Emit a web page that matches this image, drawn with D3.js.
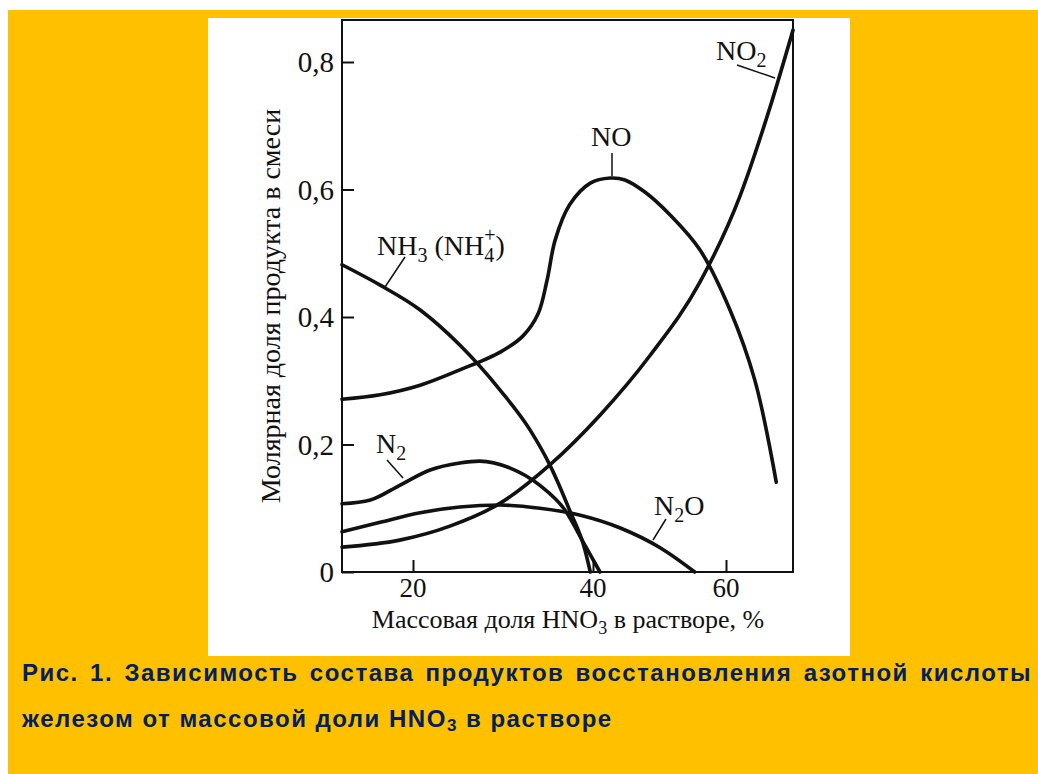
<!DOCTYPE html>
<html>
<head>
<meta charset="utf-8">
<script src="https://cdn.jsdelivr.net/npm/d3@7"></script>
<style>
  body { margin: 0; background: #fff; }
  svg { display: block; }
</style>
</head>
<body>
<svg id="chart" width="1038" height="774"></svg>
<script>
// values: x = mass fraction of HNO3 (%), y = mole fraction
const xTicks = [20, 40, 60]
const yTicks = [0, 0.2, 0.4, 0.6, 0.8]

const noX  = [12, 16.3, 20.8, 25.2, 29.7, 32.2, 33.9, 34.9, 35.8, 37.4, 39.7, 42.6, 44.8, 47.8, 51.6, 56.1, 60.6, 64.3, 67.5]
const noY  = [0.271, 0.278, 0.293, 0.317, 0.345, 0.37, 0.405, 0.458, 0.521, 0.576, 0.61, 0.618, 0.615, 0.596, 0.56, 0.505, 0.411, 0.301, 0.141]

const no2X = [12, 18.5, 24.1, 29.7, 35.2, 41.05, 48.6, 56.1, 62.1, 66.6, 70]
const no2Y = [0.039, 0.05, 0.072, 0.108, 0.168, 0.246, 0.34, 0.455, 0.59, 0.73, 0.85]

const nh3X = [12, 16.3, 20.8, 25.2, 29.7, 33, 35.2, 37.4, 39.1, 39.7]
const nh3Y = [0.482, 0.45, 0.411, 0.356, 0.285, 0.223, 0.168, 0.097, 0.035, 0]

const n2X  = [12, 15.2, 18.5, 21.9, 25.2, 27.4, 30.8, 34.1, 36.9, 39.1, 41.05]
const n2Y  = [0.107, 0.113, 0.136, 0.16, 0.171, 0.174, 0.163, 0.136, 0.097, 0.042, 0]

const n2oX = [12, 16.3, 20.8, 25.2, 29.7, 34.1, 38.6, 44.1, 50.1, 55.3]
const n2oY = [0.063, 0.078, 0.093, 0.102, 0.105, 0.1, 0.089, 0.069, 0.038, 0]

const caption1 = 'Рис. 1. Зависимость состава продуктов восстановления азотной кислоты'

const svg = d3.select('#chart')

// orange page with the white scan on it
svg.append('rect').attr('x', 8).attr('y', 10).attr('width', 1030).attr('height', 764).attr('fill', '#ffc000')
svg.append('rect').attr('x', 208).attr('y', 18).attr('width', 642).attr('height', 638).attr('fill', '#fff')

// scanned axes are not evenly spaced, so the x scale is piecewise
const x = d3.scaleLinear().domain([12, 20, 40, 60, 70]).range([342, 413, 593, 726, 793])
const y = d3.scaleLinear().domain([0, 0.8]).range([572, 62])

const serif = '"Liberation Serif", "DejaVu Serif", serif'
const g = svg.append('g').attr('font-family', serif).attr('fill', '#111')

// frame
g.append('rect')
  .attr('x', x(12)).attr('y', 20)
  .attr('width', x(70) - x(12)).attr('height', y(0) - 20)
  .attr('fill', 'none').attr('stroke', '#111').attr('stroke-width', 2)

const xAxis = g.append('g').attr('transform', `translate(0,${y(0)})`)
  .call(d3.axisTop(x).tickValues(xTicks).tickSize(12).tickFormat(''))
xAxis.select('.domain').remove()
xAxis.selectAll('line').attr('stroke', '#111').attr('stroke-width', 2)

g.selectAll('.xlab').data(xTicks).join('text')
  .attr('x', d => x(d)).attr('y', 597)
  .attr('text-anchor', 'middle').attr('font-size', 27)
  .text(d => d)

const yAxis = g.append('g').attr('transform', `translate(${x(12)},0)`)
  .call(d3.axisRight(y).tickValues(yTicks).tickSize(12).tickFormat(''))
yAxis.select('.domain').remove()
yAxis.selectAll('line').attr('stroke', '#111').attr('stroke-width', 2)

g.selectAll('.ylab').data(yTicks).join('text')
  .attr('x', 334).attr('y', d => y(d) + 10)
  .attr('text-anchor', 'end').attr('font-size', 29)
  .text(d => d === 0 ? '0' : String(d).replace('.', ','))

// axis titles
const xt = g.append('text').attr('x', 568).attr('y', 628)
  .attr('text-anchor', 'middle').attr('font-size', 26)
xt.append('tspan').text('Массовая доля HNO')
xt.append('tspan').attr('dy', 6).attr('font-size', 18).text('3')
xt.append('tspan').attr('dy', -6).text(' в растворе, %')

g.append('text')
  .attr('transform', 'translate(280,306) rotate(-90)')
  .attr('text-anchor', 'middle').attr('font-size', 28)
  .text('Молярная доля продукта в смеси')

// curves (NO is smoothed with catmull-rom, the rest must not overshoot at zero)
const series = [
  [noX, noY, d3.curveCatmullRom.alpha(0.5)],
  [no2X, no2Y, d3.curveMonotoneX],
  [nh3X, nh3Y, d3.curveMonotoneX],
  [n2X, n2Y, d3.curveMonotoneX],
  [n2oX, n2oY, d3.curveMonotoneX]
]
g.selectAll('.curve').data(series).join('path')
  .attr('d', ([xs, ys, c]) => d3.line().x(d => x(d[0])).y(d => y(d[1])).curve(c)(xs.map((v, i) => [v, ys[i]])))
  .attr('fill', 'none').attr('stroke', '#111').attr('stroke-width', 3.6)
  .attr('stroke-linecap', 'round')

// labels with leader lines
function label(px, py, parts) {
  const t = g.append('text').attr('x', px).attr('y', py).attr('font-size', 28)
  parts.forEach(([s, kind]) => {
    const sp = t.append('tspan').text(s)
    if (kind === 'sub') sp.attr('dy', 7).attr('font-size', 20)
    if (kind === 'back') sp.attr('dy', -7)
  })
  return t
}
function leader(x1, y1, x2, y2) {
  g.append('line').attr('x1', x1).attr('y1', y1).attr('x2', x2).attr('y2', y2)
    .attr('stroke', '#111').attr('stroke-width', 1.5)
}

label(716, 60, [['NO'], ['2', 'sub']])
leader(737, 65, 775, 78)

label(591, 146, [['NO']])
leader(612, 153, 612, 176)

const nh = label(377, 255, [['NH'], ['3', 'sub'], [' (NH', 'back']])
nh.append('tspan').attr('dy', 7).attr('font-size', 20).text('4')
nh.append('tspan').attr('dx', -10).attr('dy', -20).attr('font-size', 20).text('+')
nh.append('tspan').attr('dy', 13).text(')')
leader(405, 257, 385, 287)

label(376, 453, [['N'], ['2', 'sub']])
leader(387, 460, 403, 478)

label(654, 515, [['N'], ['2', 'sub'], ['O', 'back']])
leader(666, 519, 653, 540)

// caption, first line justified across the page
const cap = svg.append('g').attr('font-family', '"Liberation Sans", Arial, sans-serif')
  .attr('font-weight', 'bold').attr('font-size', 24).attr('fill', '#002060')
  .attr('letter-spacing', 1.5)
const c1 = cap.append('text').attr('x', 22).attr('y', 681).text(caption1)
const words = caption1.split(' ').length
const extra = (1032 - 22 - c1.node().getComputedTextLength()) / (words - 1)
c1.attr('word-spacing', Math.max(0, extra))

const c2 = cap.append('text').attr('x', 22).attr('y', 727)
c2.append('tspan').text('железом от массовой доли HNO')
c2.append('tspan').attr('dy', 4).attr('font-size', 17).text('3')
c2.append('tspan').attr('dy', -4).text(' в растворе')
</script>
</body>
</html>
